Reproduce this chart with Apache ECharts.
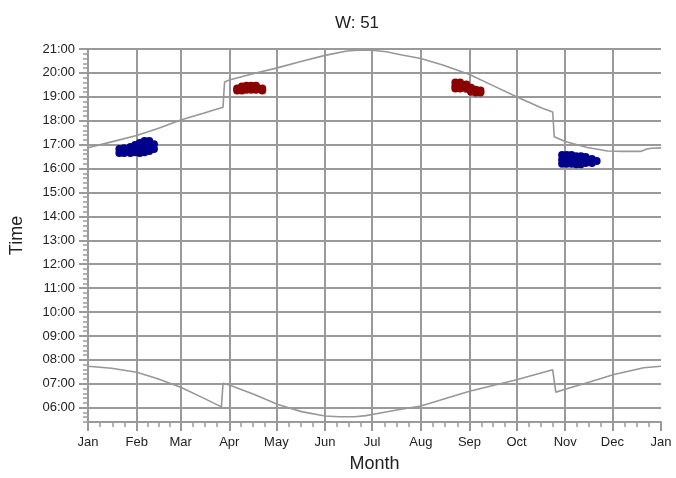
<!DOCTYPE html>
<html>
<head>
<meta charset="utf-8">
<script src="https://cdn.jsdelivr.net/npm/echarts@6/dist/echarts.min.js"></script>
<style>
  html, body { margin: 0; padding: 0; background: #fff; }
  #chart { width: 676px; height: 478px; }
</style>
</head>
<body>
<div id="chart"></div>
<script>
var monthStarts = [0, 31, 59, 90, 120, 151, 181, 212, 243, 273, 304, 334, 365];
var monthLabels = ['Jan', 'Feb', 'Mar', 'Apr', 'May', 'Jun', 'Jul', 'Aug', 'Sep', 'Oct', 'Nov', 'Dec', 'Jan'];
var hourLabels = ['06:00', '07:00', '08:00', '09:00', '10:00', '11:00', '12:00', '13:00',
                  '14:00', '15:00', '16:00', '17:00', '18:00', '19:00', '20:00', '21:00'];

// sunset / sunrise (day of year, local time)
var sunsetDays  = [0, 15, 31, 45, 59, 73, 86, 87, 90, 105, 120, 135, 151, 165, 172, 181, 190, 200, 212, 226, 243, 257, 273, 289, 296, 297, 304, 318, 331, 340, 352, 356, 359, 365];
var sunsetTimes = ['16:52', '17:07', '17:23', '17:41', '18:02', '18:18', '18:34', '19:37', '19:42', '19:58', '20:12', '20:28', '20:44', '20:55', '20:57', '20:57', '20:53', '20:45', '20:36', '20:20', '19:56', '19:30', '19:00', '18:32', '18:22', '17:20', '17:08', '16:53', '16:44', '16:43', '16:43', '16:49', '16:51', '16:52'];
var sunriseDays  = [0, 15, 31, 44, 59, 72, 85, 86, 90, 106, 121, 136, 151, 160, 170, 177, 181, 195, 212, 243, 273, 296, 298, 304, 320, 335, 354, 365];
var sunriseTimes = ['07:44', '07:39', '07:29', '07:13', '06:51', '06:27', '06:02', '07:01', '06:57', '06:33', '06:08', '05:50', '05:39', '05:37', '05:37', '05:40', '05:43', '05:53', '06:04', '06:41', '07:10', '07:35', '06:39', '06:46', '07:05', '07:23', '07:40', '07:44'];

// observed points
var blueFeb = [[20, '16:49'], [20, '16:39'], [23, '16:51'], [23, '16:39'], [27, '16:54'], [27, '16:39'],
               [30, '16:59'], [30, '16:50'], [30, '16:41'], [33, '17:04'], [33, '16:49'], [33, '16:39'],
               [36, '17:09'], [36, '16:54'], [36, '16:41'], [39, '17:09'], [39, '16:56'], [39, '16:44'],
               [42, '17:01'], [42, '16:49']];
var redApr  = [[95, '19:21'], [95, '19:16'], [98, '19:26'], [98, '19:16'], [101, '19:28'], [101, '19:18'],
               [104, '19:28'], [104, '19:18'], [107, '19:28'], [107, '19:18'], [111, '19:21'], [111, '19:16']];
var redSep  = [[234, '19:36'], [234, '19:27'], [234, '19:21'], [237, '19:36'], [237, '19:27'], [237, '19:21'],
               [241, '19:31'], [241, '19:20'], [244, '19:23'], [244, '19:13'], [247, '19:18'], [247, '19:11'],
               [250, '19:16'], [250, '19:11']];
var blueNov = [[302, '16:34'], [302, '16:22'], [302, '16:12'], [305, '16:34'], [305, '16:22'], [305, '16:12'],
               [308, '16:34'], [308, '16:22'], [308, '16:12'], [311, '16:31'], [311, '16:21'], [311, '16:11'],
               [314, '16:31'], [314, '16:21'], [314, '16:11'], [317, '16:29'], [317, '16:14'],
               [321, '16:24'], [321, '16:14'], [324, '16:19']];

function toMin(s) {
    return parseInt(s.slice(0, 2), 10) * 60 + parseInt(s.slice(3), 10);
}
function pairs(days, times) {
    return days.map(function (d, i) { return [d, toMin(times[i])]; });
}
function pts(list) {
    return list.map(function (p) { return [p[0], toMin(p[1])]; });
}

var hourValues = hourLabels.map(toMin);
var yMin = 324, yMax = 1260;
var minorY = [];
for (var m = yMin; m <= yMax; m += 12) minorY.push(m);
var minorX = [];
for (var i = 0; i < monthStarts.length - 1; i++) {
    var len = monthStarts[i + 1] - monthStarts[i];
    for (var k = 0; k < 4; k++) minorX.push(monthStarts[i] + k * len / 4);
}
minorX.push(365);

var gridColor = '#9a9a9a';
var font = 'Liberation Sans, Arial, sans-serif';
var monthLineColors = monthStarts.map(function (v, i) {
    return i === monthStarts.length - 1 ? 'rgba(0,0,0,0)' : gridColor;
});

var chart = echarts.init(document.getElementById('chart'));
chart.setOption({
    animation: false,
    backgroundColor: '#fff',
    title: {
        text: 'W: 51',
        left: 352,
        textAlign: 'center',
        top: 10,
        textStyle: { fontFamily: font, fontSize: 17, fontWeight: 'normal', color: '#222' }
    },
    grid: { left: 87, right: 15, top: 49, bottom: 54 },
    xAxis: [
        {
            type: 'value', min: 0, max: 365,
            name: 'Month', nameLocation: 'middle', nameGap: 33,
            nameTextStyle: { fontFamily: font, fontSize: 18, color: '#222' },
            axisLine: { lineStyle: { color: gridColor, width: 2 } },
            axisTick: { customValues: minorX, length: 5, lineStyle: { color: gridColor, width: 1.5 } },
            axisLabel: {
                customValues: monthStarts, margin: 14,
                fontFamily: font, fontSize: 13, color: '#222',
                formatter: function (v) { return monthLabels[monthStarts.indexOf(v)]; }
            },
            splitLine: { show: false }
        },
        {
            type: 'value', min: 0, max: 365, position: 'bottom',
            axisLine: { show: false },
            axisTick: { customValues: monthStarts, length: 9, lineStyle: { color: gridColor, width: 2 } },
            axisLabel: { show: false },
            splitLine: { show: true, lineStyle: { color: monthLineColors, width: 2 } }
        }
    ],
    yAxis: [
        {
            type: 'value', min: yMin, max: yMax,
            name: 'Time', nameLocation: 'middle', nameGap: 62,
            nameTextStyle: { fontFamily: font, fontSize: 18, color: '#222' },
            axisLine: { show: true, lineStyle: { color: gridColor, width: 2 } },
            axisTick: { show: true, customValues: minorY, length: 5, lineStyle: { color: gridColor, width: 1.5 } },
            axisLabel: {
                customValues: hourValues, margin: 13,
                fontFamily: font, fontSize: 13, color: '#222',
                formatter: function (v) { return hourLabels[hourValues.indexOf(v)]; }
            },
            splitLine: { show: false }
        },
        {
            type: 'value', min: yMin, max: yMax, position: 'left',
            axisLine: { show: false },
            axisTick: { show: true, customValues: hourValues, length: 9, lineStyle: { color: gridColor, width: 2 } },
            axisLabel: { show: false },
            splitLine: { show: true, lineStyle: { color: gridColor, width: 2 } }
        }
    ],
    series: [
        {
            type: 'line', data: pairs(sunsetDays, sunsetTimes), showSymbol: false,
            lineStyle: { color: '#979797', width: 1.6 }, z: 3
        },
        {
            type: 'line', data: pairs(sunriseDays, sunriseTimes), showSymbol: false,
            lineStyle: { color: '#979797', width: 1.6 }, z: 3
        },
        { type: 'scatter', data: pts(blueFeb), symbolSize: 8, itemStyle: { color: '#00008b', opacity: 1 }, z: 4 },
        { type: 'scatter', data: pts(redApr), symbolSize: 8, itemStyle: { color: '#8b0000', opacity: 1 }, z: 4 },
        { type: 'scatter', data: pts(redSep), symbolSize: 8, itemStyle: { color: '#8b0000', opacity: 1 }, z: 4 },
        { type: 'scatter', data: pts(blueNov), symbolSize: 8, itemStyle: { color: '#00008b', opacity: 1 }, z: 4 }
    ]
});
</script>
</body>
</html>
